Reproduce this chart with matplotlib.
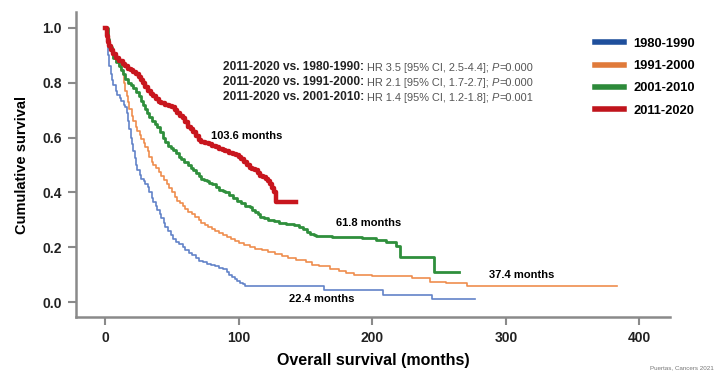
# Kaplan-Meier curves of overall survival by decade of diagnosis

import matplotlib
matplotlib.use("Agg")
import matplotlib.pyplot as plt

plt.rcParams["font.family"] = ["Liberation Sans", "DejaVu Sans"]

# Data
labels = ["1980-1990", "1991-2000", "2001-2010", "2011-2020"]

t_80s = [0, 1, 2, 3, 4, 5, 6, 8, 9, 11, 12, 14, 15, 16, 17, 18, 19, 20, 21, 22, 23, 24,
         26, 27, 29, 30, 32, 33, 35, 36, 38, 39, 41, 42, 44, 45, 47, 49, 51, 53, 55, 58,
         60, 63, 65, 68, 70, 73, 76, 79, 82, 85, 88, 91, 93, 95, 97, 99, 101, 103, 105,
         164, 208, 245, 277]
s_80s = [1.0, 0.95, 0.9, 0.86, 0.83, 0.81, 0.79, 0.77, 0.755, 0.745, 0.735, 0.72, 0.71,
         0.69, 0.66, 0.63, 0.60, 0.575, 0.55, 0.525, 0.50, 0.48, 0.465, 0.45, 0.44, 0.43,
         0.42, 0.40, 0.38, 0.365, 0.35, 0.335, 0.32, 0.305, 0.29, 0.275, 0.26, 0.245,
         0.23, 0.22, 0.21, 0.20, 0.19, 0.18, 0.17, 0.16, 0.15, 0.145, 0.14, 0.135, 0.13,
         0.125, 0.12, 0.11, 0.10, 0.093, 0.085, 0.077, 0.07, 0.065, 0.06, 0.044, 0.026,
         0.012, 0.012]

t_90s = [0, 2, 3, 5, 6, 8, 10, 12, 13, 14, 15, 16, 17, 18, 20, 21, 23, 24, 26, 27, 29,
         30, 32, 33, 35, 36, 38, 40, 42, 44, 46, 48, 50, 52, 54, 56, 58, 60, 62, 65, 67,
         70, 72, 75, 77, 80, 82, 85, 88, 91, 94, 97, 100, 104, 108, 112, 117, 122, 127,
         132, 137, 143, 150, 155, 160, 168, 175, 180, 186, 200, 230, 243, 255, 271, 383]
s_90s = [1.0, 0.95, 0.93, 0.91, 0.89, 0.875, 0.86, 0.845, 0.83, 0.80, 0.77, 0.75, 0.73,
         0.705, 0.68, 0.66, 0.64, 0.625, 0.61, 0.595, 0.58, 0.565, 0.55, 0.53, 0.51,
         0.50, 0.49, 0.475, 0.46, 0.445, 0.43, 0.415, 0.40, 0.385, 0.37, 0.36, 0.35,
         0.34, 0.33, 0.32, 0.31, 0.30, 0.29, 0.282, 0.275, 0.267, 0.26, 0.252, 0.245,
         0.237, 0.23, 0.222, 0.215, 0.207, 0.20, 0.195, 0.19, 0.182, 0.175, 0.167, 0.16,
         0.152, 0.145, 0.137, 0.13, 0.122, 0.115, 0.107, 0.10, 0.095, 0.088, 0.075,
         0.068, 0.058, 0.058]

t_00s = [0, 2, 3, 5, 6, 8, 10, 12, 13, 15, 17, 19, 21, 23, 25, 27, 28, 30, 31, 33, 35,
         37, 39, 41, 43, 45, 47, 49, 51, 53, 55, 57, 59, 62, 64, 66, 68, 70, 72, 74, 76,
         78, 80, 83, 85, 88, 90, 93, 96, 99, 102, 105, 108, 110, 112, 114, 116, 119, 122,
         126, 130, 135, 141, 145, 148, 151, 153, 156, 158, 170, 180, 192, 203, 210, 218,
         221, 246, 265]
s_00s = [1.0, 0.96, 0.93, 0.91, 0.89, 0.875, 0.86, 0.845, 0.83, 0.815, 0.80, 0.79, 0.78,
         0.765, 0.75, 0.735, 0.72, 0.705, 0.69, 0.675, 0.66, 0.65, 0.64, 0.62, 0.60,
         0.585, 0.57, 0.562, 0.555, 0.542, 0.53, 0.52, 0.51, 0.50, 0.49, 0.48, 0.47,
         0.46, 0.45, 0.445, 0.44, 0.435, 0.43, 0.42, 0.41, 0.405, 0.40, 0.39, 0.38, 0.37,
         0.36, 0.352, 0.345, 0.337, 0.33, 0.32, 0.31, 0.305, 0.30, 0.295, 0.29, 0.285,
         0.28, 0.272, 0.265, 0.257, 0.25, 0.245, 0.24, 0.238, 0.236, 0.232, 0.228, 0.218,
         0.205, 0.165, 0.108, 0.108]

t_10s = [0, 1, 2, 3, 4, 6, 8, 10, 13, 15, 17, 19, 21, 23, 25, 27, 28, 30, 32, 34, 36,
         38, 40, 42, 45, 48, 50, 52, 54, 56, 58, 60, 62, 64, 66, 68, 70, 72, 75, 78, 80,
         83, 85, 88, 90, 93, 96, 98, 100, 102, 104, 106, 108, 110, 112, 114, 116, 118,
         120, 122, 123, 125, 126, 128, 143]
s_10s = [1.0, 0.97, 0.95, 0.935, 0.92, 0.905, 0.89, 0.88, 0.87, 0.86, 0.85, 0.845, 0.84,
         0.83, 0.82, 0.81, 0.80, 0.785, 0.77, 0.76, 0.75, 0.74, 0.73, 0.725, 0.72,
         0.715, 0.71, 0.70, 0.69, 0.68, 0.67, 0.655, 0.64, 0.63, 0.62, 0.605, 0.59,
         0.585, 0.58, 0.575, 0.57, 0.565, 0.56, 0.555, 0.55, 0.545, 0.54, 0.535, 0.53,
         0.52, 0.51, 0.50, 0.49, 0.485, 0.48, 0.47, 0.46, 0.455, 0.45, 0.44, 0.43,
         0.415, 0.40, 0.365, 0.365]

medians = ["22.4 months", "37.4 months", "61.8 months", "103.6 months"]

hr_groups = ["2011-2020 vs. 1980-1990:", "2011-2020 vs. 1991-2000:", "2011-2020 vs. 2001-2010:"]
hr_text = [" HR 3.5 [95% CI, 2.5-4.4]; ", " HR 2.1 [95% CI, 1.7-2.7]; ", " HR 1.4 [95% CI, 1.2-1.8]; "]
p_vals = ["=0.000", "=0.000", "=0.001"]

line_colors = ["#6283c8", "#ef8d4e", "#2f8f3c", "#c8161e"]
legend_colors = ["#1f4f9c", "#e07a3a", "#2d8a3a", "#c0141c"]
widths = [1.2, 1.2, 2.0, 3.2]

fig = plt.figure(figsize=(7.16, 3.74), dpi=100)
ax = fig.add_axes([0.106, 0.152, 0.83, 0.816])

series = [(t_80s, s_80s), (t_90s, s_90s), (t_00s, s_00s), (t_10s, s_10s)]
for (t, s), c, w, lab in zip(series, line_colors, widths, labels):
    ax.plot(t, s, drawstyle="steps-post", color=c, lw=w, label=lab)

ax.set_xlim(-22, 423)
ax.set_ylim(-0.055, 1.058)
ax.set_xticks([0, 100, 200, 300, 400])
ax.set_yticks([0.0, 0.2, 0.4, 0.6, 0.8, 1.0])
ax.set_yticklabels(["0.0", "0.2", "0.4", "0.6", "0.8", "1.0"])
for sp in ["top", "right"]:
    ax.spines[sp].set_visible(False)
for sp in ["left", "bottom"]:
    ax.spines[sp].set_color("#8a8a8a")
    ax.spines[sp].set_linewidth(1.8)
ax.tick_params(colors="#8a8a8a", width=1.5, length=6, labelsize=10,
               labelcolor="#222222", pad=4)
for lbl in ax.get_xticklabels() + ax.get_yticklabels():
    lbl.set_fontweight("bold")

ax.set_xlabel("Overall survival (months)", fontsize=11.5, fontweight="bold", labelpad=6)
ax.set_ylabel("Cumulative survival", fontsize=10.5, fontweight="bold", labelpad=10)

# median survival labels
ax.text(162, 0.01, medians[0], fontsize=8, fontweight="bold", ha="center", va="center")
ax.text(312, 0.10, medians[1], fontsize=8, fontweight="bold", ha="center", va="center")
ax.text(197, 0.29, medians[2], fontsize=8, fontweight="bold", ha="center", va="center")
ax.text(106, 0.605, medians[3], fontsize=8, fontweight="bold", ha="center", va="center")

# hazard ratio block
y0 = 1 - 67 / 374
for i in range(3):
    y = y0 - i * 15 / 374
    a = fig.text(223 / 716, y, hr_groups[i], fontsize=8.6, fontweight="bold",
                 va="center", color="#222222")
    b = ax.annotate(hr_text[i], xy=(1, 0), xycoords=a, va="bottom", fontsize=7.9,
                    color="#555555")
    c = ax.annotate("P", xy=(1, 0), xycoords=b, va="bottom", fontsize=7.9,
                    style="italic", color="#555555")
    ax.annotate(p_vals[i], xy=(1, 0), xycoords=c, va="bottom", fontsize=7.9,
                color="#555555")

# legend with thick colour bars
handles = [plt.Line2D([], [], color=c, lw=4) for c in legend_colors]
fig.legend(handles, labels, loc="upper left", bbox_to_anchor=(583 / 716, 1 - 26 / 374),
           frameon=False, handlelength=2.3, handletextpad=0.7, labelspacing=0.8,
           prop={"weight": "bold", "size": 9.3})

fig.text(0.997, 0.012, "Puertas, Cancers 2021", fontsize=4.5, color="#777777", ha="right")

fig.savefig("out.png", dpi=100)
